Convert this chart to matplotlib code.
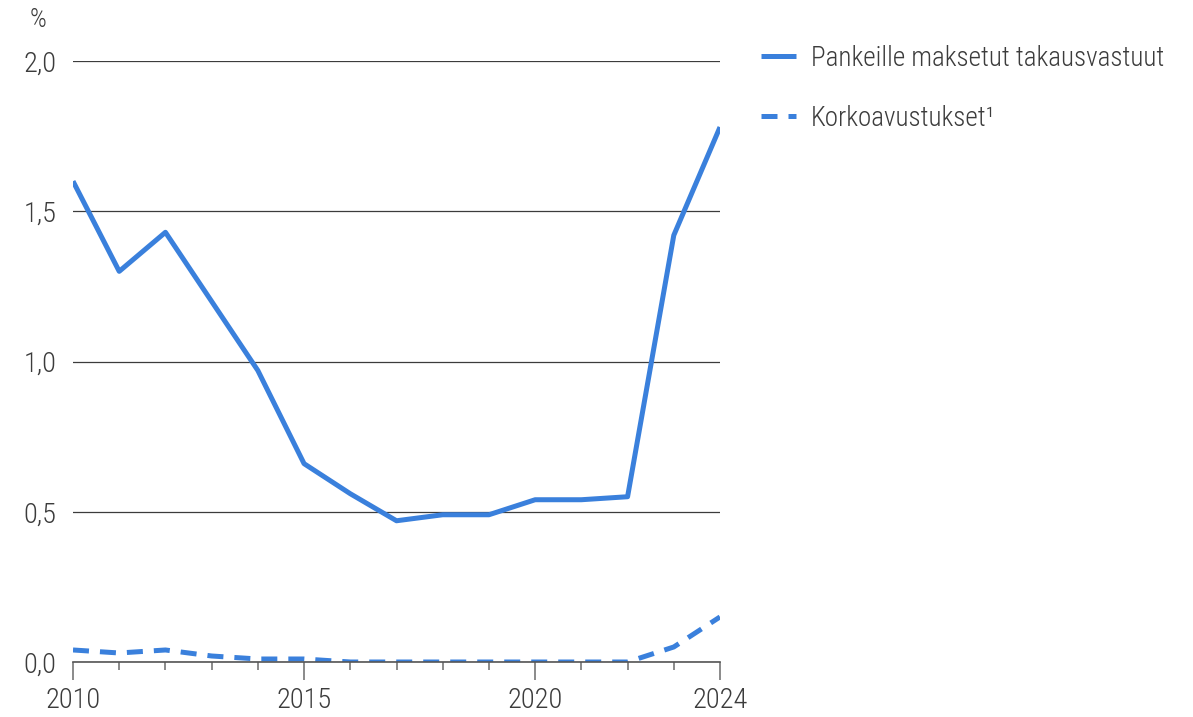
import matplotlib.pyplot as plt

years = list(range(2010, 2025))
takausvastuut = [1.60, 1.30, 1.43, 1.20, 0.97, 0.66, 0.56, 0.47, 0.49, 0.49, 0.54, 0.54, 0.55, 1.42, 1.78]
korkoavustukset = [0.04, 0.03, 0.04, 0.02, 0.01, 0.01, 0.00, 0.00, 0.00, 0.00, 0.00, 0.00, 0.00, 0.05, 0.15]
y_ticks = [0.0, 0.5, 1.0, 1.5, 2.0]
x_labels = [2010, 2015, 2020, 2024]

plt.rcParams['font.family'] = ['Roboto Condensed', 'Roboto', 'DejaVu Sans']
plt.rcParams['font.weight'] = 'light'

blue = '#3a80dc'
grey = '#3c3c3c'

fig = plt.figure(figsize=(11.93, 7.17), dpi=100)
ax = fig.add_axes([73 / 1193, 1 - 662 / 717, (720 - 73) / 1193, (662 - 61) / 717])

ax.plot(years, takausvastuut, color=blue, lw=3.6, solid_capstyle='butt',
        label='Pankeille maksetut takausvastuut')
ax.plot(years, korkoavustukset, color=blue, lw=3.6, dash_capstyle='butt',
        linestyle=(0, (3.2, 2.2)), label='Korkoavustukset\u00b9')

ax.set_xlim(2010, 2024)
ax.set_ylim(0, 2.0)
ax.set_yticks(y_ticks)
ax.set_yticklabels([f'{v:.1f}'.replace('.', ',') for v in y_ticks])
ax.set_xticks(x_labels)
ax.set_xticklabels([str(x) for x in x_labels])
ax.set_xticks(years, minor=True)

ax.grid(axis='y', color=grey, lw=0.9)
ax.set_axisbelow(True)
for s in ['top', 'right', 'left']:
    ax.spines[s].set_visible(False)
ax.spines['bottom'].set_color('#555555')
ax.spines['bottom'].set_linewidth(1.2)

ax.tick_params(axis='y', length=0, pad=12, labelsize=20.5, labelcolor=grey)
ax.tick_params(axis='x', which='major', length=13, width=1.2, color='#777777',
               pad=5, labelsize=20.5, labelcolor=grey)
ax.tick_params(axis='x', which='minor', length=6, width=1.2, color='#777777')

fig.text(30 / 1193, 1 - 20 / 717, '%', fontsize=19, color=grey, va='center')

ax.legend(loc='upper left', bbox_to_anchor=(1.0465, 1.045), frameon=False,
          fontsize=19.5, labelcolor=grey, handlelength=1.3, handletextpad=0.55,
          labelspacing=1.22, borderaxespad=0)

fig.savefig('out.png', dpi=100)
